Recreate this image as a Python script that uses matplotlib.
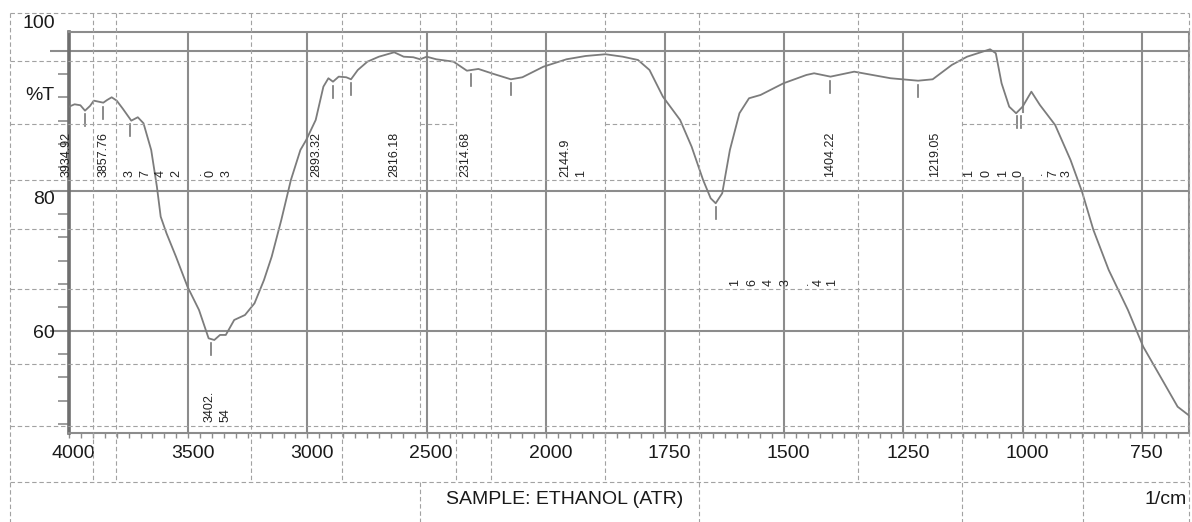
import numpy as np
import matplotlib
matplotlib.use("Agg")
import matplotlib.pyplot as plt
from matplotlib.ticker import FixedLocator, MultipleLocator, NullFormatter
import matplotlib.transforms as mtransforms
from matplotlib.lines import Line2D

# ---------------- data ----------------
wavenumber = [4000.0, 3976.5, 3952.2, 3932.9, 3911.9, 3896.0, 3875.4, 3856.1, 3839.8, 3820.9,
              3799.9, 3775.6, 3738.7, 3711.4, 3687.5, 3655.2, 3631.3, 3615.4, 3591.0, 3551.2,
              3503.0, 3454.7, 3414.4, 3390.5, 3366.6, 3342.3, 3307.0, 3261.8, 3221.9, 3182.1,
              3149.8, 3109.5, 3069.2, 3029.4, 3005.0, 2965.2, 2932.9, 2911.9, 2892.6, 2868.7,
              2836.8, 2817.1, 2788.6, 2748.3, 2700.1, 2635.9, 2596.1, 2555.8, 2526.9, 2499.6,
              2459.3, 2387.2, 2330.9, 2282.7, 2218.5, 2146.4, 2098.2, 2010.1, 1956.6, 1916.5,
              1874.8, 1838.7, 1806.6, 1782.5, 1754.4, 1718.3, 1694.2, 1670.1, 1654.2, 1643.7,
              1630.0, 1613.9, 1593.9, 1573.8, 1549.7, 1501.5, 1453.4, 1437.3, 1402.9, 1353.2,
              1276.9, 1219.2, 1188.6, 1148.5, 1116.4, 1068.2, 1056.2, 1044.1, 1028.1, 1013.6,
              1000.0, 981.6, 963.7, 931.8, 899.5, 875.4, 851.5, 819.4, 779.1, 747.0,
              707.0, 674.9, 652.4]
transmittance = [92.0, 92.34, 92.2, 91.43, 92.1, 92.86, 92.71, 92.57, 92.96, 93.34,
                 92.86, 91.77, 90.0, 90.49, 89.63, 85.81, 80.57, 76.29, 73.91, 70.57,
                 66.29, 62.96, 58.91, 58.67, 59.39, 59.39, 61.53, 62.24, 63.91, 67.24,
                 70.57, 75.81, 81.53, 85.81, 87.24, 90.1, 94.86, 96.06, 95.57, 96.29,
                 96.2, 95.91, 97.24, 98.43, 99.14, 99.77, 99.14, 99.06, 98.77, 99.14,
                 98.77, 98.43, 97.14, 97.39, 96.67, 95.91, 96.2, 97.71, 98.77, 99.24,
                 99.49, 99.14, 98.67, 97.24, 93.43, 90.1, 86.29, 81.53, 78.91, 78.2,
                 79.63, 85.81, 91.06, 93.2, 93.67, 95.34, 96.53, 96.77, 96.29, 97.0,
                 96.06, 95.71, 95.91, 97.96, 99.14, 100.2, 99.63, 95.34, 92.0, 91.06,
                 92.0, 94.14, 92.24, 89.39, 84.39, 79.86, 74.39, 68.67, 62.96, 57.71,
                 52.96, 49.14, 47.96]

peak_wavenumbers = [3934.92, 3857.76, 3742.03, 3402.54, 2893.32, 2816.18,
                    2314.68, 2144.91, 1643.41, 1404.22, 1219.05, 1010.73]

x_major_ticks = [4000, 3500, 3000, 2500, 2000, 1750, 1500, 1250, 1000, 750]
y_major_ticks = [60, 80, 100]
y_tick_labels = ["60", "80", "100"]
sample_text = "SAMPLE: ETHANOL (ATR)"
unit_text = "1/cm"
y_unit_text = "%T"

# ---------------- styling ----------------
plt.rcParams["font.family"] = ["Liberation Sans", "DejaVu Sans"]
GRID = "#8c8c8c"
CURVE = "#7c7c7c"
DASH = "#a2a2a2"
TXT = "#1a1a1a"

W, H = 1192, 522
fig = plt.figure(figsize=(W / 100, H / 100), dpi=100)

L, R, T, B = 69, 1189, 31.7, 433.3
ax = fig.add_axes([L / W, 1 - B / H, (R - L) / W, (B - T) / H], facecolor="none")


def fwd(w):
    # split IR wavenumber scale: 500 cm-1 per unit above 2000, 250 cm-1 per unit below
    w = np.asarray(w, dtype=float)
    return np.where(w >= 2000, (w - 2000.0) / 500.0, (w - 2000.0) / 250.0)


def inv(p):
    p = np.asarray(p, dtype=float)
    return np.where(p >= 0, 2000.0 + 500.0 * p, 2000.0 + 250.0 * p)


ax.set_xscale("function", functions=(fwd, inv))
ax.set_xlim(4000, 651)
ax.set_ylim(45.34, 102.71)

# gridlines
for t in x_major_ticks[1:]:
    if t == 1000:
        ax.axvline(t, ymin=0.0, ymax=0.636, color=GRID, lw=1.5, zorder=1)
        ax.axvline(t, ymin=0.800, ymax=1.0, color=GRID, lw=1.5, zorder=1)
    else:
        ax.axvline(t, color=GRID, lw=1.5, zorder=1)
for t in y_major_ticks:
    ax.axhline(t, color=GRID, lw=1.5, zorder=1)

# spectrum
ax.plot(wavenumber, transmittance, color=CURVE, lw=1.3, zorder=3)

# peak markers
wn_sorted = np.array(wavenumber)[::-1]
tr_sorted = np.array(transmittance)[::-1]
for pk in peak_wavenumbers:
    tv = np.interp(pk, wn_sorted, tr_sorted)
    ax.plot([pk, pk], [tv - 0.6, tv - 2.3], color="#777777", lw=1.2, zorder=3)
    if pk == peak_wavenumbers[-1]:
        off = ax.transData + mtransforms.ScaledTranslation(3.6 / 100, 0, fig.dpi_scale_trans)
        ax.plot([pk, pk], [tv - 0.6, tv - 2.3], color="#777777", lw=1.2, zorder=3,
                transform=off)

# ticks
ax.xaxis.set_major_locator(FixedLocator(x_major_ticks))
minor_x = list(range(4000, 2000, -50)) + list(range(2000, 650, -25))
ax.xaxis.set_minor_locator(FixedLocator(minor_x))
ax.set_xticklabels([str(t) for t in x_major_ticks], fontsize=14, color=TXT)
ax.tick_params(axis="x", which="both", direction="out", length=3.6, width=1.0,
               color=GRID, pad=4.5)
for lab in ax.get_xticklabels():
    lab.set_transform(lab.get_transform() +
                      mtransforms.ScaledTranslation(4.5 / 100, 0, fig.dpi_scale_trans))

ax.yaxis.set_major_locator(FixedLocator(y_major_ticks))
ax.yaxis.set_minor_locator(MultipleLocator(10 / 3))
ax.yaxis.set_major_formatter(NullFormatter())
ax.tick_params(axis="y", which="major", direction="out", length=13.7, width=1.5, color=GRID)
ax.tick_params(axis="y", which="minor", direction="out", length=8, width=1.2, color=GRID)

for s in ["top", "right", "bottom"]:
    ax.spines[s].set_color(GRID)
    ax.spines[s].set_linewidth(1.5)
ax.spines["left"].set_color("#6e6e6e")
ax.spines["left"].set_linewidth(2.6)

# ---------------- overlay (page layout in pixels) ----------------
ov = fig.add_axes([0, 0, 1, 1], facecolor="none", zorder=5)
ov.set_xlim(0, W)
ov.set_ylim(H, 0)
ov.axis("off")

full = (9.6, 1188.5)
h_dash = [(13.3, *full), (61, *full), (124.3, 9.6, 250.7), (124.3, 419.8, 456.2),
          (124.3, 605.4, 699), (124.3, 961.5, 1188.5), (180, *full), (229.3, *full),
          (289.3, *full), (364.3, *full), (426, *full), (481.7, *full)]
v_dash = [(9.6, 13.3, 522), (93, 13.3, 481.7), (116, 13.3, 481.7), (250.7, 13.3, 481.7),
          (341.8, 13.3, 481.7), (419.8, 13.3, 426), (419.8, 481.7, 522), (456.2, 13.3, 481.7),
          (490.6, 13.3, 481.7), (605.4, 13.3, 481.7), (699, 13.3, 522), (857.5, 13.3, 481.7),
          (961.5, 13.3, 522), (1083, 13.3, 522), (1188.5, 13.3, 522)]
for y, x0, x1 in h_dash:
    ov.add_line(Line2D([x0, x1], [y, y], color=DASH, lw=0.8, ls=(0, (4, 2.5))))
for x, y0, y1 in v_dash:
    ov.add_line(Line2D([x, x], [y0, y1], color=DASH, lw=0.8, ls=(0, (4, 2.5))))

# y-axis texts
ov.text(39, 23, y_tick_labels[2], fontsize=14, ha="center", va="center", color=TXT)
ov.text(40, 96, y_unit_text, fontsize=14, ha="center", va="center", color=TXT)
ov.text(44, 200, y_tick_labels[1], fontsize=14, ha="center", va="center", color=TXT)
ov.text(44, 334, y_tick_labels[0], fontsize=14, ha="center", va="center", color=TXT)

# bottom texts
ov.text(565, 500, sample_text, fontsize=14, ha="center", va="center", color=TXT)
ov.text(1187, 500, unit_text, fontsize=14, ha="right", va="center", color=TXT)

# peak labels
PK = dict(fontsize=9, rotation=90, color="#222222", ha="center")
ov.text(67, 177, "3934.92", va="bottom", **PK)
ov.text(104, 177, "3857.76", va="bottom", **PK)
ov.text(316, 177, "2893.32", va="bottom", **PK)
ov.text(394, 177, "2816.18", va="bottom", **PK)
ov.text(465, 177, "2314.68", va="bottom", **PK)
ov.text(565.6, 177, "2144.9", va="bottom", **PK)
ov.text(580.6, 177, "1", va="bottom", **PK)
ov.text(830.4, 177, "1404.22", va="bottom", **PK)
ov.text(935.3, 177, "1219.05", va="bottom", **PK)
ov.text(209.3, 422, "3402.", va="bottom", **PK)
ov.text(225.8, 422, "54", va="bottom", **PK)

spread = [("3742.03", [130, 145.5, 160.5, 176, 198, 210.5, 226.5], 173.7),
          ("1643.41", [735.5, 752.7, 768.8, 785.3, 804.4, 818.6, 832.3], 283),
          ("1010.73", [969, 986, 1003.4, 1018.7, 1039, 1053, 1066.6], 173.7)]
for txt, xs, yc in spread:
    for ch, xc in zip(txt, xs):
        ov.text(xc, yc, ch, va="center", **PK)

fig.savefig("out.png", dpi=100)
